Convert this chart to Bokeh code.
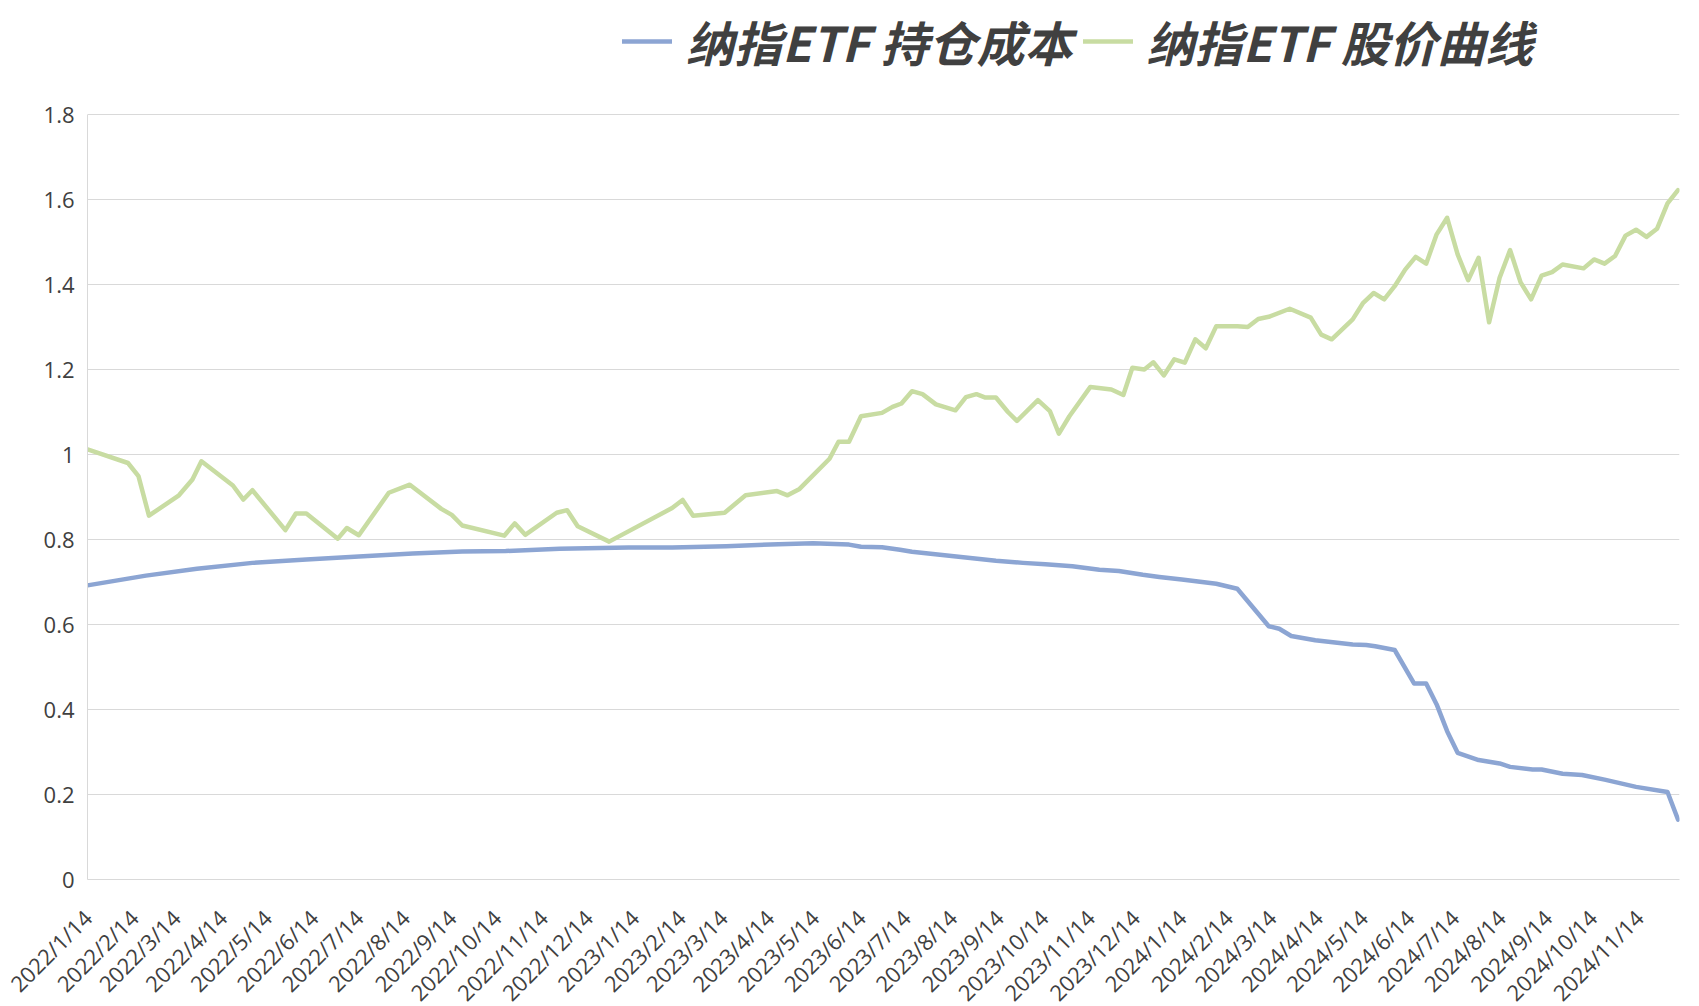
import math
import pandas as pd
from bokeh.plotting import figure
from bokeh.models import (Range1d, FixedTicker, CustomJSTickFormatter, Legend, LegendItem,
                          ColumnDataSource)
from bokeh.embed import file_html
from bokeh.resources import INLINE

# ---------------- data ----------------
price_dates = [
    "2022-01-14", "2022-02-10", "2022-02-17", "2022-02-24", "2022-03-16", "2022-03-25",
    "2022-03-31", "2022-04-21", "2022-04-28", "2022-05-04", "2022-05-26", "2022-06-02",
    "2022-06-09", "2022-06-30", "2022-07-06", "2022-07-14", "2022-08-03", "2022-08-17",
    "2022-09-07", "2022-09-14", "2022-09-21", "2022-10-19", "2022-10-26", "2022-11-02",
    "2022-11-23", "2022-11-30", "2022-12-07", "2022-12-28", "2023-02-08", "2023-02-15",
    "2023-02-22", "2023-03-15", "2023-03-29", "2023-04-19", "2023-04-26", "2023-05-04",
    "2023-05-24", "2023-05-30", "2023-06-06", "2023-06-14", "2023-06-28", "2023-07-05",
    "2023-07-11", "2023-07-18", "2023-07-25", "2023-08-03", "2023-08-16", "2023-08-23",
    "2023-08-30", "2023-09-05", "2023-09-12", "2023-09-20", "2023-09-26", "2023-10-10",
    "2023-10-18", "2023-10-24", "2023-10-31", "2023-11-14", "2023-11-28", "2023-12-06",
    "2023-12-12", "2023-12-20", "2023-12-26", "2024-01-02", "2024-01-09", "2024-01-16",
    "2024-01-23", "2024-01-30", "2024-02-06", "2024-02-20", "2024-02-27", "2024-03-05",
    "2024-03-12", "2024-03-26", "2024-04-09", "2024-04-16", "2024-04-23", "2024-05-07",
    "2024-05-14", "2024-05-21", "2024-05-28", "2024-06-04", "2024-06-11", "2024-06-18",
    "2024-06-25", "2024-07-02", "2024-07-09", "2024-07-16", "2024-07-23", "2024-07-30",
    "2024-08-06", "2024-08-13", "2024-08-20", "2024-08-27", "2024-09-03", "2024-09-10",
    "2024-09-17", "2024-09-24", "2024-10-08", "2024-10-15", "2024-10-22", "2024-10-29",
    "2024-11-05", "2024-11-12", "2024-11-19", "2024-11-26", "2024-12-03", "2024-12-10",
]
price_values = [
    1.012, 0.980, 0.949, 0.856, 0.904, 0.941,
    0.984, 0.927, 0.894, 0.916, 0.822, 0.861,
    0.861, 0.802, 0.827, 0.810, 0.910, 0.929,
    0.872, 0.858, 0.833, 0.809, 0.838, 0.811,
    0.863, 0.869, 0.831, 0.795, 0.874, 0.893,
    0.856, 0.863, 0.904, 0.914, 0.904, 0.919,
    0.990, 1.030, 1.030, 1.090, 1.098, 1.112,
    1.120, 1.149, 1.142, 1.118, 1.104, 1.135,
    1.142, 1.134, 1.134, 1.100, 1.079, 1.128,
    1.102, 1.049, 1.090, 1.159, 1.153, 1.140,
    1.204, 1.200, 1.217, 1.186, 1.224, 1.216,
    1.271, 1.250, 1.302, 1.302, 1.300, 1.319,
    1.324, 1.343, 1.322, 1.282, 1.271, 1.318,
    1.357, 1.380, 1.365, 1.396, 1.435, 1.465,
    1.449, 1.518, 1.557, 1.471, 1.410, 1.463,
    1.311, 1.416, 1.481, 1.405, 1.365, 1.421,
    1.429, 1.447, 1.438, 1.459, 1.449, 1.467,
    1.515, 1.529, 1.512, 1.531, 1.591, 1.622,
]

cost_dates = [
    "2022-01-14", "2022-02-22", "2022-03-28", "2022-05-04", "2022-06-09", "2022-07-14",
    "2022-08-19", "2022-09-21", "2022-10-20", "2022-11-25", "2023-01-10", "2023-02-08",
    "2023-03-16", "2023-04-20", "2023-05-13", "2023-06-06", "2023-06-14", "2023-06-28",
    "2023-07-10", "2023-07-18", "2023-08-01", "2023-09-12", "2023-09-30", "2023-10-15",
    "2023-11-02", "2023-11-20", "2023-12-03", "2023-12-19", "2023-12-30", "2024-01-14",
    "2024-02-06", "2024-02-20", "2024-03-12", "2024-03-19", "2024-03-27", "2024-04-12",
    "2024-05-07", "2024-05-16", "2024-05-22", "2024-06-04", "2024-06-17", "2024-06-25",
    "2024-07-02", "2024-07-09", "2024-07-16", "2024-07-30", "2024-08-13", "2024-08-20",
    "2024-09-04", "2024-09-10", "2024-09-24", "2024-10-07", "2024-10-22", "2024-11-12",
    "2024-12-03", "2024-12-10",
]
cost_values = [
    0.692, 0.715, 0.731, 0.745, 0.753, 0.760,
    0.767, 0.772, 0.773, 0.778, 0.781, 0.781,
    0.784, 0.789, 0.791, 0.788, 0.783, 0.782,
    0.776, 0.771, 0.766, 0.750, 0.745, 0.742,
    0.737, 0.729, 0.726, 0.717, 0.712, 0.706,
    0.696, 0.684, 0.596, 0.590, 0.573, 0.563,
    0.553, 0.552, 0.549, 0.540, 0.461, 0.461,
    0.412, 0.349, 0.298, 0.281, 0.273, 0.265,
    0.259, 0.259, 0.249, 0.246, 0.235, 0.218,
    0.206, 0.141,
]

tick_dates = [f"{y}-{m:02d}-14" for y in (2022, 2023, 2024) for m in range(1, 13)][:35]
y_ticks = [0, 0.2, 0.4, 0.6, 0.8, 1.0, 1.2, 1.4, 1.6, 1.8]

series_names = ["纳指ETF 持仓成本", "纳指ETF 股价曲线"]
series_colors = ["#8CA5D3", "#C8DCA2"]

# ---------------- plot ----------------
def to_ms(d):
    return pd.Timestamp(d).value // 10**6

x_start = pd.Timestamp("2022-01-14")
x_end = pd.Timestamp("2024-12-11")

# 765 px for 0..1.8 ; frame extends 114 px further up to hold the legend
frame_h = 879
y_top = 1.8 * frame_h / 765

p = figure(
    x_axis_type="datetime",
    x_range=Range1d(x_start, x_end),
    y_range=Range1d(0, y_top),
    frame_width=1592, frame_height=frame_h,
    min_border_left=87, min_border_right=8, min_border_top=0, min_border_bottom=105,
    output_backend="svg", toolbar_location=None,
    background_fill_color="white", border_fill_color="white",
)
p.outline_line_color = None

src_cost = ColumnDataSource(dict(x=pd.to_datetime(cost_dates), y=cost_values))
src_price = ColumnDataSource(dict(x=pd.to_datetime(price_dates), y=price_values))

r1 = p.line("x", "y", source=src_cost, line_color=series_colors[0], line_width=4.5,
            line_join="round", line_cap="round")
r2 = p.line("x", "y", source=src_price, line_color=series_colors[1], line_width=4.5,
            line_join="round", line_cap="round")

# grid
p.xgrid.grid_line_color = None
p.ygrid.grid_line_color = "#D9D9D9"
p.ygrid.grid_line_width = 1
p.ygrid.ticker = FixedTicker(ticks=y_ticks)

# axes
tick_font = "Open Sans"
for ax in (p.xaxis[0], p.yaxis[0]):
    ax.axis_line_color = "#D9D9D9"
    ax.axis_line_width = 1
    ax.major_tick_line_color = None
    ax.minor_tick_line_color = None
    ax.major_tick_out = 0
    ax.major_tick_in = 0
    ax.minor_tick_out = 0
    ax.major_label_text_font = tick_font
    ax.major_label_text_font_size = "22px"
    ax.major_label_text_color = "#404040"

p.yaxis.ticker = FixedTicker(ticks=y_ticks)
p.yaxis.bounds = (0, 1.8)
p.yaxis.formatter = CustomJSTickFormatter(code="return String(Number(tick.toFixed(1)));")
p.yaxis.major_label_standoff = 13

p.xaxis.ticker = FixedTicker(ticks=[to_ms(d) for d in tick_dates])
p.xaxis.formatter = CustomJSTickFormatter(code="""
const d = new Date(tick);
return d.getUTCFullYear() + '/' + (d.getUTCMonth() + 1) + '/' + d.getUTCDate();
""")
p.xaxis.major_label_orientation = math.pi / 4
p.xaxis.major_label_standoff = 34

legend = Legend(
    items=[LegendItem(label=series_names[0], renderers=[r1]),
           LegendItem(label=series_names[1], renderers=[r2])],
    orientation="horizontal",
    location=(535, 803),
    label_text_font="Noto Sans CJK SC",
    label_text_font_size="48px",
    label_text_font_style="bold italic",
    label_text_color="#404040",
    glyph_width=50, glyph_height=40,
    label_standoff=14, spacing=10,
    padding=0, margin=0,
    border_line_alpha=0, background_fill_alpha=0,
)
p.add_layout(legend)

open("out.html", "w").write(file_html(p, INLINE))
